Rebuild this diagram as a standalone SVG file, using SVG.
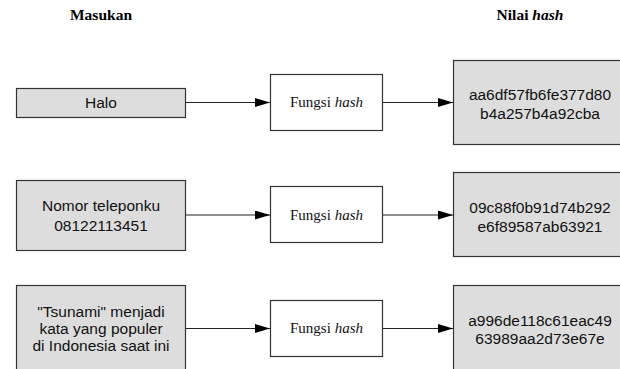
<svg xmlns="http://www.w3.org/2000/svg" width="620" height="369" viewBox="0 0 620 369">
  <defs>
    <marker id="arrow" markerUnits="userSpaceOnUse" markerWidth="15" markerHeight="10" refX="15" refY="4.5" orient="auto">
      <path d="M0,0 L15,4.5 L0,9 z" fill="#000"/>
    </marker>
    <style>
      .head { font-family: "Liberation Serif", "Times New Roman", serif; font-size: 15.5px; font-weight: bold; fill: #000; text-anchor: middle; }
      .gray { fill: #dddddd; stroke: #333; stroke-width: 1.2; }
      .func { fill: #fff; stroke: #333; stroke-width: 1.2; }
      .sans { font-family: "Liberation Sans", Arial, sans-serif; font-size: 15.5px; fill: #111; text-anchor: middle; }
      .serif { font-family: "Liberation Serif", "Times New Roman", serif; font-size: 15px; fill: #111; text-anchor: middle; }
      .conn { stroke: #222; stroke-width: 1.2; fill: none; marker-end: url(#arrow); }
    </style>
  </defs>

  <text class="head" x="101" y="20">Masukan</text>
  <text class="head" x="530" y="20">Nilai <tspan font-style="italic">hash</tspan></text>

  <g id="connectors">
    <line class="conn" x1="186" y1="102.5" x2="270" y2="102.5"/>
    <line class="conn" x1="383" y1="102.5" x2="453" y2="102.5"/>
    <line class="conn" x1="186" y1="215" x2="270" y2="215"/>
    <line class="conn" x1="383" y1="215" x2="453" y2="215"/>
    <line class="conn" x1="186" y1="328.5" x2="270" y2="328.5"/>
    <line class="conn" x1="383" y1="328.5" x2="453" y2="328.5"/>
  </g>

  <g id="input1">
    <rect class="gray" x="16.5" y="88.5" width="169" height="29"/>
    <text class="sans" x="101" y="108">Halo</text>
  </g>
  <g id="func1">
    <rect class="func" x="270.5" y="74.5" width="112" height="56"/>
    <text class="serif" x="326.5" y="107">Fungsi <tspan font-style="italic">hash</tspan></text>
  </g>
  <g id="hash1">
    <rect class="gray" x="453.5" y="60.5" width="175" height="84"/>
    <text class="sans" x="540" y="100">aa6df57fb6fe377d80</text>
    <text class="sans" x="540" y="118.5">b4a257b4a92cba</text>
  </g>

  <g id="input2">
    <rect class="gray" x="16.5" y="180.5" width="169" height="70"/>
    <text class="sans" x="101" y="210.5">Nomor teleponku</text>
    <text class="sans" x="101" y="230.5">08122113451</text>
  </g>
  <g id="func2">
    <rect class="func" x="270.5" y="186.5" width="112" height="56"/>
    <text class="serif" x="326.5" y="219.5">Fungsi <tspan font-style="italic">hash</tspan></text>
  </g>
  <g id="hash2">
    <rect class="gray" x="453.5" y="172.5" width="175" height="84"/>
    <text class="sans" x="540" y="213">09c88f0b91d74b292</text>
    <text class="sans" x="540" y="231.5">e6f89587ab63921</text>
  </g>

  <g id="input3">
    <rect class="gray" x="16.5" y="285.5" width="169" height="90"/>
    <text class="sans" x="101" y="316.5">"Tsunami" menjadi</text>
    <text class="sans" x="101" y="333.5">kata yang populer</text>
    <text class="sans" x="101" y="350.5">di Indonesia saat ini</text>
  </g>
  <g id="func3">
    <rect class="func" x="270.5" y="300.5" width="112" height="56"/>
    <text class="serif" x="326.5" y="333">Fungsi <tspan font-style="italic">hash</tspan></text>
  </g>
  <g id="hash3">
    <rect class="gray" x="453.5" y="285.5" width="175" height="90"/>
    <text class="sans" x="540" y="325.5">a996de118c61eac49</text>
    <text class="sans" x="540" y="344">63989aa2d73e67e</text>
  </g>
</svg>
